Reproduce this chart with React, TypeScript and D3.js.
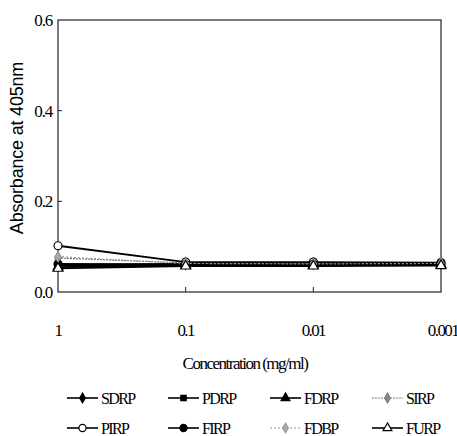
import React from 'react';
import * as d3 from 'd3';

const categories = ['1', '0.1', '0.01', '0.001'];
const yTicks = [0, 0.2, 0.4, 0.6];

const seriesNames = ['SDRP', 'PDRP', 'FDRP', 'SIRP', 'PIRP', 'FIRP', 'FDBP', 'FURP'];
const SDRP = [0.060, 0.062, 0.062, 0.063];
const PDRP = [0.058, 0.060, 0.060, 0.061];
const FDRP = [0.055, 0.059, 0.059, 0.060];
const SIRP = [0.075, 0.064, 0.063, 0.064];
const PIRP = [0.102, 0.066, 0.066, 0.065];
const FIRP = [0.062, 0.061, 0.061, 0.062];
const FDBP = [0.078, 0.063, 0.062, 0.063];
const FURP = [0.052, 0.057, 0.057, 0.058];

// marker shape, fill, line colour, dash
const styles: Record<string, { sym: string; fill: string; stroke: string; dash?: string; line: string }> = {
  SDRP: { sym: 'diamond', fill: '#000', stroke: '#000', line: '#000' },
  PDRP: { sym: 'square', fill: '#000', stroke: '#000', line: '#000' },
  FDRP: { sym: 'triangle', fill: '#000', stroke: '#000', line: '#000' },
  SIRP: { sym: 'diamond', fill: '#888', stroke: '#777', line: '#777', dash: '2,1' },
  PIRP: { sym: 'circle', fill: '#fff', stroke: '#000', line: '#000' },
  FIRP: { sym: 'circle', fill: '#000', stroke: '#000', line: '#000' },
  FDBP: { sym: 'diamond', fill: '#aaa', stroke: '#999', line: '#999', dash: '2,2' },
  FURP: { sym: 'triangle', fill: '#fff', stroke: '#000', line: '#000' },
};

const seriesValues: Record<string, number[]> = { SDRP, PDRP, FDRP, SIRP, PIRP, FIRP, FDBP, FURP };

const symbolType: Record<string, d3.SymbolType> = {
  diamond: d3.symbolDiamond,
  square: d3.symbolSquare,
  triangle: d3.symbolTriangle,
  circle: d3.symbolCircle,
};

const serif = '"Liberation Serif", "DejaVu Serif", serif';
const sans = '"Liberation Sans", Arial, sans-serif';

export default function App() {
  const W = 457;
  const H = 436;
  const left = 58;
  const right = 441;
  const top = 20;
  const bottom = 292;

  const x = d3.scalePoint<string>().domain(categories).range([left, right]).padding(0);
  const y = d3.scaleLinear().domain([0, 0.6]).range([bottom, top]);
  const line = d3
    .line<number>()
    .x((_, i) => x(categories[i]) as number)
    .y((d) => y(d));

  const marker = (name: string, cx: number, cy: number, scale: number, key?: string | number) => {
    const s = styles[name];
    const base = s.sym === 'circle' ? 50 : s.sym === 'triangle' ? 42 : s.sym === 'square' ? 36 : 34;
    return (
      <path
        key={key}
        d={d3.symbol().type(symbolType[s.sym]).size(base * scale)() as string}
        transform={`translate(${cx},${cy})`}
        fill={s.fill}
        stroke={s.stroke}
        strokeWidth={1.2}
      />
    );
  };

  const legendCols = [67, 168, 270, 372];
  const legendRows = [398, 428];

  return (
    <svg width={W} height={H} style={{ position: 'absolute', left: 0, top: 0, background: '#fff' }}>
      <rect x={0} y={0} width={W} height={H} fill="#fff" />
      {/* plot frame */}
      <rect x={left} y={top} width={right - left} height={bottom - top} fill="none" stroke="#222" strokeWidth={1.2} />

      {/* y ticks */}
      {yTicks.map((t) => (
        <g key={t}>
          {t > 0 && t < 0.6 && <line x1={left} x2={left + 4} y1={y(t)} y2={y(t)} stroke="#222" />}
          <text x={left - 6} y={y(t)} dy="0.35em" textAnchor="end" fontFamily={serif} fontSize={17} letterSpacing={-1.2}>
            {t.toFixed(1)}
          </text>
        </g>
      ))}

      {/* x ticks */}
      {categories.map((c, i) => (
        <g key={c}>
          {i > 0 && i < categories.length - 1 && (
            <line x1={x(c)} x2={x(c)} y1={bottom} y2={bottom - 5} stroke="#222" />
          )}
          <text
            x={(x(c) as number) + (i === categories.length - 1 ? 2 : 0)}
            y={330}
            dy="0.35em"
            textAnchor="middle"
            fontFamily={serif}
            fontSize={17}
            letterSpacing={-1.6}
          >
            {c}
          </text>
        </g>
      ))}

      {/* axis titles */}
      <text
        transform={`translate(23,${(top + bottom) / 2 - 8}) rotate(-90)`}
        textAnchor="middle"
        fontFamily={sans}
        fontSize={18}
        letterSpacing={-0.2}
      >
        Absorbance at 405nm
      </text>
      <text x={245} y={363} dy="0.35em" textAnchor="middle" fontFamily={serif} fontSize={17} letterSpacing={-1.5}>
        Concentration (mg/ml)
      </text>

      {/* series */}
      {seriesNames.map((name) => {
        const s = styles[name];
        const vals = seriesValues[name];
        return (
          <g key={name}>
            <path
              d={line(vals) as string}
              fill="none"
              stroke={s.line}
              strokeWidth={s.dash ? 1.2 : 1.8}
              strokeDasharray={s.dash}
            />
            {vals.map((v, i) => marker(name, x(categories[i]) as number, y(v), 1, i))}
          </g>
        );
      })}

      {/* legend */}
      {seriesNames.map((name, i) => {
        const s = styles[name];
        const lx = legendCols[i % 4];
        const ly = legendRows[Math.floor(i / 4)];
        return (
          <g key={name}>
            <line
              x1={lx}
              x2={lx + 31}
              y1={ly}
              y2={ly}
              stroke={s.line}
              strokeWidth={s.dash ? 1 : 1.6}
              strokeDasharray={s.dash}
            />
            {marker(name, lx + 15.5, ly, 0.8)}
            <text x={lx + 34} y={ly} dy="0.35em" fontFamily={serif} fontSize={16} letterSpacing={-1.6}>
              {name}
            </text>
          </g>
        );
      })}
    </svg>
  );
}
